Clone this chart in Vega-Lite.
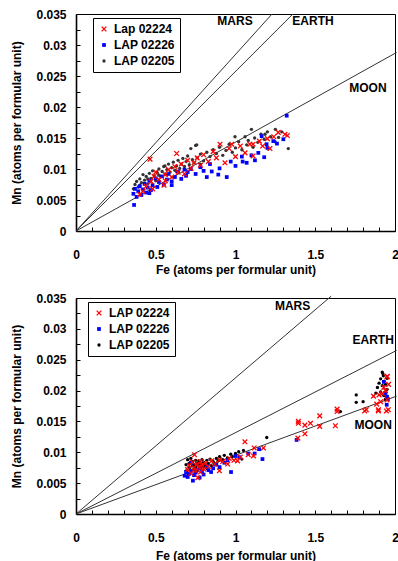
{
  "$schema": "https://vega.github.io/schema/vega-lite/v6.json",
  "background": "white",
  "padding": {"left": 10, "top": 7, "right": 0, "bottom": 0},
  "spacing": 15,
  "config": {
    "view": {"stroke": "black", "strokeWidth": 1},
    "axis": {
      "labelFont": "Liberation Sans", "labelFontWeight": "bold", "labelFontSize": 12, "labelColor": "black",
      "titleFont": "Liberation Sans", "titleFontWeight": "bold", "titleFontSize": 12, "titleColor": "black",
      "domainColor": "black", "domainWidth": 1.6, "tickColor": "black", "tickWidth": 1, "tickSize": -4,
      "grid": false, "labelFlush": false, "labelOverlap": false
    },
    "axisX": {"labelPadding": 22, "titlePadding": 4},
    "axisY": {"labelPadding": 14, "titlePadding": 12},
    "legend": {
      "labelFont": "Liberation Sans", "labelFontWeight": "bold", "labelFontSize": 12, "labelColor": "black",
      "symbolStrokeWidth": 1.3, "symbolOpacity": 1
    }
  },
  "datasets": {
    "topLines": [
      {"l": "MARS", "x": 0, "y": 0}, {"l": "MARS", "x": 1.229, "y": 0.035},
      {"l": "EARTH", "x": 0, "y": 0}, {"l": "EARTH", "x": 1.36, "y": 0.035},
      {"l": "MOON", "x": 0, "y": 0}, {"l": "MOON", "x": 2.01, "y": 0.0288}
    ],
    "botLines": [
      {"l": "MARS", "x": 0, "y": 0}, {"l": "MARS", "x": 1.6, "y": 0.0353},
      {"l": "EARTH", "x": 0, "y": 0}, {"l": "EARTH", "x": 2.01, "y": 0.0265},
      {"l": "MOON", "x": 0, "y": 0}, {"l": "MOON", "x": 2.01, "y": 0.0191}
    ],
    "topLab": [
      {"t": "MARS", "x": 0.997, "y": 0.0339},
      {"t": "EARTH", "x": 1.486, "y": 0.0339},
      {"t": "MOON", "x": 1.83, "y": 0.0231}
    ],
    "botLab": [
      {"t": "MARS", "x": 1.358, "y": 0.0337},
      {"t": "EARTH", "x": 1.863, "y": 0.0282},
      {"t": "MOON", "x": 1.863, "y": 0.0144}
    ],
    "top": [
      {"s":"k","x":0.36,"y":0.0068},{"s":"k","x":0.37,"y":0.0075},{"s":"k","x":0.38,"y":0.0080},{"s":"k","x":0.39,"y":0.0071},
      {"s":"k","x":0.40,"y":0.0084},{"s":"k","x":0.41,"y":0.0078},{"s":"k","x":0.42,"y":0.0091},{"s":"k","x":0.43,"y":0.0082},
      {"s":"k","x":0.44,"y":0.0088},{"s":"k","x":0.45,"y":0.0076},{"s":"k","x":0.46,"y":0.0093},{"s":"k","x":0.47,"y":0.0085},
      {"s":"k","x":0.48,"y":0.0097},{"s":"k","x":0.49,"y":0.0089},{"s":"k","x":0.50,"y":0.0081},{"s":"k","x":0.51,"y":0.0094},
      {"s":"k","x":0.52,"y":0.0100},{"s":"k","x":0.53,"y":0.0088},{"s":"k","x":0.54,"y":0.0096},{"s":"k","x":0.55,"y":0.0104},
      {"s":"k","x":0.56,"y":0.0092},{"s":"k","x":0.57,"y":0.0099},{"s":"k","x":0.58,"y":0.0108},{"s":"k","x":0.59,"y":0.0095},
      {"s":"k","x":0.60,"y":0.0102},{"s":"k","x":0.61,"y":0.0111},{"s":"k","x":0.62,"y":0.0098},{"s":"k","x":0.63,"y":0.0105},
      {"s":"k","x":0.64,"y":0.0114},{"s":"k","x":0.65,"y":0.0101},{"s":"k","x":0.66,"y":0.0108},{"s":"k","x":0.67,"y":0.0117},
      {"s":"k","x":0.68,"y":0.0104},{"s":"k","x":0.69,"y":0.0112},{"s":"k","x":0.70,"y":0.0121},{"s":"k","x":0.71,"y":0.0107},
      {"s":"k","x":0.72,"y":0.0133},{"s":"k","x":0.73,"y":0.0115},{"s":"k","x":0.74,"y":0.0110},{"s":"k","x":0.75,"y":0.0138},
      {"s":"k","x":0.76,"y":0.0118},{"s":"k","x":0.78,"y":0.0124},{"s":"k","x":0.80,"y":0.0113},{"s":"k","x":0.82,"y":0.0127},
      {"s":"k","x":0.84,"y":0.0120},{"s":"k","x":0.86,"y":0.0131},{"s":"k","x":0.88,"y":0.0125},{"s":"k","x":0.90,"y":0.0135},
      {"s":"k","x":0.92,"y":0.0122},{"s":"k","x":0.94,"y":0.0130},{"s":"k","x":0.96,"y":0.0140},{"s":"k","x":0.98,"y":0.0127},
      {"s":"k","x":1.00,"y":0.0134},{"s":"k","x":0.997,"y":0.0152},{"s":"k","x":1.02,"y":0.0144},{"s":"k","x":1.04,"y":0.0131},
      {"s":"k","x":1.06,"y":0.0152},{"s":"k","x":1.07,"y":0.0139},{"s":"k","x":1.08,"y":0.0146},{"s":"k","x":1.10,"y":0.0164},
      {"s":"k","x":1.11,"y":0.0135},{"s":"k","x":1.12,"y":0.0150},{"s":"k","x":1.14,"y":0.0143},{"s":"k","x":1.16,"y":0.0156},
      {"s":"k","x":1.185,"y":0.0156},{"s":"k","x":1.18,"y":0.0148},{"s":"k","x":1.20,"y":0.0160},{"s":"k","x":1.22,"y":0.0152},
      {"s":"k","x":1.248,"y":0.0144},{"s":"k","x":1.25,"y":0.0164},{"s":"k","x":1.27,"y":0.0151},{"s":"k","x":1.29,"y":0.0160},
      {"s":"k","x":1.331,"y":0.0133},{"s":"k","x":0.52,"y":0.0090},{"s":"k","x":0.45,"y":0.0084},{"s":"k","x":0.40,"y":0.0074},
      {"s":"k","x":0.63,"y":0.0096},{"s":"k","x":0.78,"y":0.0108},{"s":"k","x":0.558,"y":0.0105},{"s":"k","x":0.757,"y":0.0139},
      {"s":"b","x":0.36,"y":0.0060},{"s":"b","x":0.37,"y":0.0068},{"s":"b","x":0.38,"y":0.0055},{"s":"b","x":0.364,"y":0.0042},
      {"s":"b","x":0.39,"y":0.0064},{"s":"b","x":0.40,"y":0.0072},{"s":"b","x":0.41,"y":0.0058},{"s":"b","x":0.42,"y":0.0067},
      {"s":"b","x":0.43,"y":0.0076},{"s":"b","x":0.44,"y":0.0062},{"s":"b","x":0.45,"y":0.0070},{"s":"b","x":0.46,"y":0.0081},
      {"s":"b","x":0.47,"y":0.0066},{"s":"b","x":0.48,"y":0.0074},{"s":"b","x":0.50,"y":0.0085},{"s":"b","x":0.51,"y":0.0071},
      {"s":"b","x":0.52,"y":0.0079},{"s":"b","x":0.54,"y":0.0088},{"s":"b","x":0.55,"y":0.0075},{"s":"b","x":0.57,"y":0.0083},
      {"s":"b","x":0.58,"y":0.0092},{"s":"b","x":0.60,"y":0.0080},{"s":"b","x":0.62,"y":0.0087},{"s":"b","x":0.64,"y":0.0096},
      {"s":"b","x":0.66,"y":0.0084},{"s":"b","x":0.69,"y":0.0089},{"s":"b","x":0.70,"y":0.0095},{"s":"b","x":0.72,"y":0.0100},
      {"s":"b","x":0.75,"y":0.0092},{"s":"b","x":0.78,"y":0.0103},{"s":"b","x":0.80,"y":0.0097},{"s":"b","x":0.84,"y":0.0108},
      {"s":"b","x":0.851,"y":0.0096},{"s":"b","x":0.892,"y":0.0091},{"s":"b","x":0.90,"y":0.0101},{"s":"b","x":0.945,"y":0.0087},
      {"s":"b","x":0.97,"y":0.0112},{"s":"b","x":1.00,"y":0.0105},{"s":"b","x":1.045,"y":0.0112},{"s":"b","x":1.04,"y":0.0120},
      {"s":"b","x":1.07,"y":0.0110},{"s":"b","x":1.10,"y":0.0122},{"s":"b","x":1.122,"y":0.0114},{"s":"b","x":1.143,"y":0.0126},
      {"s":"b","x":1.164,"y":0.0153},{"s":"b","x":1.195,"y":0.0140},{"s":"b","x":1.18,"y":0.0119},{"s":"b","x":1.20,"y":0.0134},
      {"s":"b","x":1.237,"y":0.0145},{"s":"b","x":1.26,"y":0.0141},{"s":"b","x":1.30,"y":0.0148},{"s":"b","x":1.321,"y":0.0186},
      {"s":"b","x":0.82,"y":0.0087},{"s":"b","x":0.60,"y":0.0074},{"s":"b","x":0.46,"y":0.0061},{"s":"b","x":0.68,"y":0.0099},
      {"s":"r","x":0.40,"y":0.0059},{"s":"r","x":0.42,"y":0.0064},{"s":"r","x":0.44,"y":0.0072},{"s":"r","x":0.464,"y":0.0116},
      {"s":"r","x":0.47,"y":0.0080},{"s":"r","x":0.49,"y":0.0088},{"s":"r","x":0.50,"y":0.0095},{"s":"r","x":0.52,"y":0.0083},
      {"s":"r","x":0.552,"y":0.0074},{"s":"r","x":0.56,"y":0.0091},{"s":"r","x":0.58,"y":0.0099},{"s":"r","x":0.60,"y":0.0087},
      {"s":"r","x":0.62,"y":0.0104},{"s":"r","x":0.631,"y":0.0125},{"s":"r","x":0.64,"y":0.0095},{"s":"r","x":0.66,"y":0.0108},
      {"s":"r","x":0.68,"y":0.0092},{"s":"r","x":0.70,"y":0.0114},{"s":"r","x":0.72,"y":0.0101},{"s":"r","x":0.74,"y":0.0110},
      {"s":"r","x":0.76,"y":0.0118},{"s":"r","x":0.78,"y":0.0106},{"s":"r","x":0.80,"y":0.0123},{"s":"r","x":0.83,"y":0.0112},
      {"s":"r","x":0.86,"y":0.0128},{"s":"r","x":0.88,"y":0.0118},{"s":"r","x":0.903,"y":0.0140},{"s":"r","x":0.934,"y":0.0110},
      {"s":"r","x":0.96,"y":0.0133},{"s":"r","x":0.976,"y":0.0140},{"s":"r","x":1.00,"y":0.0120},{"s":"r","x":1.03,"y":0.0137},
      {"s":"r","x":1.06,"y":0.0126},{"s":"r","x":1.09,"y":0.0140},{"s":"r","x":1.11,"y":0.0121},{"s":"r","x":1.11,"y":0.0140},
      {"s":"r","x":1.15,"y":0.0145},{"s":"r","x":1.17,"y":0.0137},{"s":"r","x":1.216,"y":0.0133},{"s":"r","x":1.20,"y":0.0149},
      {"s":"r","x":1.24,"y":0.0152},{"s":"r","x":1.268,"y":0.0159},{"s":"r","x":1.31,"y":0.0156},{"s":"r","x":1.325,"y":0.0154},
      {"s":"r","x":0.56,"y":0.0081},{"s":"r","x":0.48,"y":0.0068}
    ],
    "bot": [
      {"s":"k","x":0.69,"y":0.0070},{"s":"k","x":0.69,"y":0.0080},{"s":"k","x":0.70,"y":0.0066},{"s":"k","x":0.70,"y":0.0088},
      {"s":"k","x":0.71,"y":0.0075},{"s":"k","x":0.71,"y":0.0082},{"s":"k","x":0.72,"y":0.0071},{"s":"k","x":0.72,"y":0.0090},
      {"s":"k","x":0.73,"y":0.0078},{"s":"k","x":0.73,"y":0.0085},{"s":"k","x":0.74,"y":0.0073},{"s":"k","x":0.74,"y":0.0080},
      {"s":"k","x":0.75,"y":0.0087},{"s":"k","x":0.75,"y":0.0076},{"s":"k","x":0.76,"y":0.0082},{"s":"k","x":0.76,"y":0.0070},
      {"s":"k","x":0.77,"y":0.0079},{"s":"k","x":0.77,"y":0.0086},{"s":"k","x":0.78,"y":0.0074},{"s":"k","x":0.78,"y":0.0081},
      {"s":"k","x":0.79,"y":0.0088},{"s":"k","x":0.80,"y":0.0077},{"s":"k","x":0.80,"y":0.0084},{"s":"k","x":0.81,"y":0.0080},
      {"s":"k","x":0.82,"y":0.0087},{"s":"k","x":0.82,"y":0.0074},{"s":"k","x":0.83,"y":0.0082},{"s":"k","x":0.84,"y":0.0089},
      {"s":"k","x":0.85,"y":0.0078},{"s":"k","x":0.86,"y":0.0085},{"s":"k","x":0.87,"y":0.0081},{"s":"k","x":0.88,"y":0.0090},
      {"s":"k","x":0.89,"y":0.0086},{"s":"k","x":0.90,"y":0.0093},{"s":"k","x":0.92,"y":0.0088},{"s":"k","x":0.93,"y":0.0095},
      {"s":"k","x":0.95,"y":0.0091},{"s":"k","x":0.97,"y":0.0097},{"s":"k","x":0.98,"y":0.0093},{"s":"k","x":1.00,"y":0.0098},
      {"s":"k","x":1.02,"y":0.0101},{"s":"k","x":1.04,"y":0.0089},{"s":"k","x":1.05,"y":0.0103},{"s":"k","x":1.196,"y":0.0124},
      {"s":"k","x":1.757,"y":0.0193},{"s":"k","x":1.757,"y":0.0181},{"s":"k","x":1.80,"y":0.0182},{"s":"k","x":1.658,"y":0.0166},
      {"s":"k","x":1.89,"y":0.0205},{"s":"k","x":1.90,"y":0.0212},{"s":"k","x":1.91,"y":0.0219},{"s":"k","x":1.923,"y":0.0228},
      {"s":"k","x":1.927,"y":0.0224},{"s":"k","x":1.93,"y":0.0215},{"s":"k","x":1.92,"y":0.0208},{"s":"k","x":1.94,"y":0.0210},
      {"s":"k","x":1.95,"y":0.0202},{"s":"k","x":1.91,"y":0.0198},{"s":"k","x":1.93,"y":0.0192},{"s":"k","x":1.95,"y":0.0220},
      {"s":"k","x":1.88,"y":0.0196},{"s":"k","x":1.94,"y":0.0186},{"s":"k","x":1.92,"y":0.0230},
      {"s":"b","x":0.681,"y":0.0062},{"s":"b","x":0.69,"y":0.0068},{"s":"b","x":0.70,"y":0.0060},{"s":"b","x":0.71,"y":0.0065},
      {"s":"b","x":0.72,"y":0.0070},{"s":"b","x":0.733,"y":0.0054},{"s":"b","x":0.74,"y":0.0063},{"s":"b","x":0.75,"y":0.0067},
      {"s":"b","x":0.76,"y":0.0072},{"s":"b","x":0.775,"y":0.0059},{"s":"b","x":0.78,"y":0.0075},{"s":"b","x":0.79,"y":0.0069},
      {"s":"b","x":0.80,"y":0.0064},{"s":"b","x":0.82,"y":0.0078},{"s":"b","x":0.83,"y":0.0071},{"s":"b","x":0.847,"y":0.0068},
      {"s":"b","x":0.86,"y":0.0074},{"s":"b","x":0.88,"y":0.0080},{"s":"b","x":0.90,"y":0.0076},{"s":"b","x":0.93,"y":0.0083},
      {"s":"b","x":0.95,"y":0.0087},{"s":"b","x":0.972,"y":0.0068},{"s":"b","x":1.00,"y":0.0094},{"s":"b","x":1.024,"y":0.0092},
      {"s":"b","x":1.08,"y":0.0098},{"s":"b","x":1.12,"y":0.0098},{"s":"b","x":1.148,"y":0.0105},{"s":"b","x":1.169,"y":0.0089},
      {"s":"b","x":1.383,"y":0.0120},{"s":"b","x":1.948,"y":0.0177},{"s":"b","x":1.95,"y":0.0190},{"s":"b","x":1.94,"y":0.0196},
      {"s":"b","x":1.93,"y":0.0214},{"s":"b","x":1.955,"y":0.0186},{"s":"b","x":0.72,"y":0.0083},
      {"s":"r","x":0.70,"y":0.0072},{"s":"r","x":0.71,"y":0.0079},{"s":"r","x":0.72,"y":0.0066},{"s":"r","x":0.73,"y":0.0084},
      {"s":"r","x":0.743,"y":0.0096},{"s":"r","x":0.74,"y":0.0075},{"s":"r","x":0.75,"y":0.0070},{"s":"r","x":0.764,"y":0.0059},
      {"s":"r","x":0.76,"y":0.0081},{"s":"r","x":0.77,"y":0.0076},{"s":"r","x":0.78,"y":0.0085},{"s":"r","x":0.78,"y":0.0068},
      {"s":"r","x":0.79,"y":0.0079},{"s":"r","x":0.80,"y":0.0073},{"s":"r","x":0.81,"y":0.0082},{"s":"r","x":0.83,"y":0.0077},
      {"s":"r","x":0.85,"y":0.0086},{"s":"r","x":0.87,"y":0.0081},{"s":"r","x":0.899,"y":0.0070},{"s":"r","x":0.90,"y":0.0088},
      {"s":"r","x":0.92,"y":0.0085},{"s":"r","x":0.951,"y":0.0081},{"s":"r","x":0.96,"y":0.0090},{"s":"r","x":0.99,"y":0.0087},
      {"s":"r","x":1.013,"y":0.0086},{"s":"r","x":1.03,"y":0.0092},{"s":"r","x":1.059,"y":0.0117},{"s":"r","x":1.08,"y":0.0096},
      {"s":"r","x":1.113,"y":0.0094},{"s":"r","x":1.117,"y":0.0107},{"s":"r","x":1.175,"y":0.0107},{"s":"r","x":1.391,"y":0.0123},
      {"s":"r","x":1.394,"y":0.0150},{"s":"r","x":1.394,"y":0.0147},{"s":"r","x":1.435,"y":0.0144},{"s":"r","x":1.435,"y":0.0130},
      {"s":"r","x":1.47,"y":0.0147},{"s":"r","x":1.528,"y":0.0159},{"s":"r","x":1.528,"y":0.0142},{"s":"r","x":1.626,"y":0.0143},
      {"s":"r","x":1.637,"y":0.0170},{"s":"r","x":1.637,"y":0.0166},{"s":"r","x":1.81,"y":0.0167},{"s":"r","x":1.82,"y":0.0169},
      {"s":"r","x":1.865,"y":0.0191},{"s":"r","x":1.896,"y":0.0167},{"s":"r","x":1.896,"y":0.0169},{"s":"r","x":1.946,"y":0.0167},
      {"s":"r","x":1.958,"y":0.0169},{"s":"r","x":1.948,"y":0.0222},{"s":"r","x":1.952,"y":0.0223},{"s":"r","x":1.96,"y":0.0210},
      {"s":"r","x":1.94,"y":0.0200},{"s":"r","x":1.92,"y":0.0195},{"s":"r","x":1.90,"y":0.0193},{"s":"r","x":1.95,"y":0.0185},
      {"s":"r","x":1.93,"y":0.0205},{"s":"r","x":1.885,"y":0.0178},{"s":"r","x":1.91,"y":0.0182}
    ]
  },
  "resolve": {
    "scale": {"x": "independent", "y": "independent", "fill": "independent", "stroke": "independent", "shape": "independent", "size": "independent"},
    "legend": {"fill": "independent", "stroke": "independent", "shape": "independent", "size": "independent"}
  },
  "vconcat": [
    {
      "width": 319, "height": 217,
      "encoding": {
        "x": {"field": "x", "type": "quantitative", "scale": {"domain": [0, 2], "nice": false, "zero": false},
          "axis": {"title": "Fe (atoms per formular unit)", "values": [0,0.1,0.2,0.3,0.4,0.5,0.6,0.7,0.8,0.9,1,1.1,1.2,1.3,1.4,1.5,1.6,1.7,1.8,1.9,2],
            "labelExpr": "abs(datum.value*2 - round(datum.value*2)) < 0.001 ? format(datum.value, '.1~f') : ''"}},
        "y": {"field": "y", "type": "quantitative", "scale": {"domain": [0, 0.035], "nice": false, "zero": false},
          "axis": {"title": "Mn (atoms per formular unit)", "values": [0,0.0025,0.005,0.0075,0.01,0.0125,0.015,0.0175,0.02,0.0225,0.025,0.0275,0.03,0.0325,0.035],
            "labelExpr": "abs(datum.value*200 - round(datum.value*200)) < 0.001 ? format(datum.value, '.3~f') : ''"}}
      },
      "layer": [
        {"data": {"name": "topLines"}, "mark": {"type": "line", "color": "#333333", "strokeWidth": 1, "clip": false},
          "encoding": {"detail": {"field": "l"}}},
        {"data": {"name": "topLab"}, "mark": {"type": "text", "font": "Liberation Sans", "fontWeight": "bold", "fontSize": 12, "color": "black", "align": "center", "baseline": "middle"},
          "encoding": {"text": {"field": "t"}}},
        {"data": {"name": "top"}, "mark": {"type": "point", "filled": true, "opacity": 1, "strokeWidth": 1.3},
          "encoding": {
            "fill": {"field": "s", "type": "nominal", "scale": {"domain": ["r","b","k"], "range": ["#ff0000","#0000ff","#333333"]},
              "legend": {"title": null, "orient": "none", "legendX": 17, "legendY": 4, "strokeColor": "black", "fillColor": "white", "padding": 5, "rowPadding": 4,
                "labelExpr": "datum.label == 'r' ? 'Lap 02224' : datum.label == 'b' ? 'LAP 02226' : 'LAP 02205'"}},
            "stroke": {"field": "s", "type": "nominal", "scale": {"domain": ["r","b","k"], "range": ["#ff0000","rgba(0,0,0,0)","rgba(0,0,0,0)"]},
              "legend": {"title": null, "orient": "none", "legendX": 17, "legendY": 4, "strokeColor": "black", "fillColor": "white", "padding": 5, "rowPadding": 4,
                "labelExpr": "datum.label == 'r' ? 'Lap 02224' : datum.label == 'b' ? 'LAP 02226' : 'LAP 02205'"}},
            "shape": {"field": "s", "type": "nominal", "scale": {"domain": ["r","b","k"], "range": ["M-1,-1L1,1M1,-1L-1,1","square","circle"]},
              "legend": {"title": null, "orient": "none", "legendX": 17, "legendY": 4, "strokeColor": "black", "fillColor": "white", "padding": 5, "rowPadding": 4,
                "labelExpr": "datum.label == 'r' ? 'Lap 02224' : datum.label == 'b' ? 'LAP 02226' : 'LAP 02205'"}},
            "size": {"field": "s", "type": "nominal", "scale": {"type": "ordinal", "domain": ["r","b","k"], "range": [22, 14, 11]},
              "legend": {"title": null, "orient": "none", "legendX": 17, "legendY": 4, "strokeColor": "black", "fillColor": "white", "padding": 5, "rowPadding": 4,
                "labelExpr": "datum.label == 'r' ? 'Lap 02224' : datum.label == 'b' ? 'LAP 02226' : 'LAP 02205'"}}
          }}
      ]
    },
    {
      "width": 319, "height": 216,
      "encoding": {
        "x": {"field": "x", "type": "quantitative", "scale": {"domain": [0, 2], "nice": false, "zero": false},
          "axis": {"title": "Fe (atoms per formular unit)", "titlePadding": 7, "values": [0,0.1,0.2,0.3,0.4,0.5,0.6,0.7,0.8,0.9,1,1.1,1.2,1.3,1.4,1.5,1.6,1.7,1.8,1.9,2],
            "labelExpr": "abs(datum.value*2 - round(datum.value*2)) < 0.001 ? format(datum.value, '.1~f') : ''"}},
        "y": {"field": "y", "type": "quantitative", "scale": {"domain": [0, 0.035], "nice": false, "zero": false},
          "axis": {"title": "Mn (atoms per formular unit)", "values": [0,0.0025,0.005,0.0075,0.01,0.0125,0.015,0.0175,0.02,0.0225,0.025,0.0275,0.03,0.0325,0.035],
            "labelExpr": "abs(datum.value*200 - round(datum.value*200)) < 0.001 ? format(datum.value, '.3~f') : ''"}}
      },
      "layer": [
        {"data": {"name": "botLines"}, "mark": {"type": "line", "color": "#333333", "strokeWidth": 1, "clip": false},
          "encoding": {"detail": {"field": "l"}}},
        {"data": {"name": "botLab"}, "mark": {"type": "text", "font": "Liberation Sans", "fontWeight": "bold", "fontSize": 12, "color": "black", "align": "center", "baseline": "middle"},
          "encoding": {"text": {"field": "t"}}},
        {"data": {"name": "bot"}, "mark": {"type": "point", "filled": true, "opacity": 1, "strokeWidth": 1.3},
          "encoding": {
            "fill": {"field": "s", "type": "nominal", "scale": {"domain": ["r","b","k"], "range": ["#ff0000","#0000ff","#000000"]},
              "legend": {"title": null, "orient": "none", "legendX": 12, "legendY": 4, "strokeColor": "black", "fillColor": "white", "padding": 5, "rowPadding": 4,
                "labelExpr": "datum.label == 'r' ? 'LAP 02224' : datum.label == 'b' ? 'LAP 02226' : 'LAP 02205'"}},
            "stroke": {"field": "s", "type": "nominal", "scale": {"domain": ["r","b","k"], "range": ["#ff0000","rgba(0,0,0,0)","rgba(0,0,0,0)"]},
              "legend": {"title": null, "orient": "none", "legendX": 12, "legendY": 4, "strokeColor": "black", "fillColor": "white", "padding": 5, "rowPadding": 4,
                "labelExpr": "datum.label == 'r' ? 'LAP 02224' : datum.label == 'b' ? 'LAP 02226' : 'LAP 02205'"}},
            "shape": {"field": "s", "type": "nominal", "scale": {"domain": ["r","b","k"], "range": ["M-1,-1L1,1M1,-1L-1,1","square","circle"]},
              "legend": {"title": null, "orient": "none", "legendX": 12, "legendY": 4, "strokeColor": "black", "fillColor": "white", "padding": 5, "rowPadding": 4,
                "labelExpr": "datum.label == 'r' ? 'LAP 02224' : datum.label == 'b' ? 'LAP 02226' : 'LAP 02205'"}},
            "size": {"field": "s", "type": "nominal", "scale": {"type": "ordinal", "domain": ["r","b","k"], "range": [22, 14, 11]},
              "legend": {"title": null, "orient": "none", "legendX": 12, "legendY": 4, "strokeColor": "black", "fillColor": "white", "padding": 5, "rowPadding": 4,
                "labelExpr": "datum.label == 'r' ? 'LAP 02224' : datum.label == 'b' ? 'LAP 02226' : 'LAP 02205'"}}
          }}
      ]
    }
  ]
}
